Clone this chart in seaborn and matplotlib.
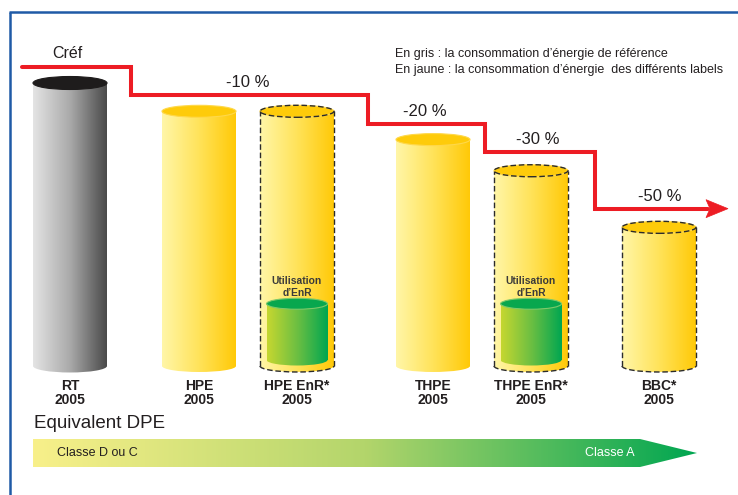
import numpy as np
import matplotlib
matplotlib.use("Agg")
import matplotlib.pyplot as plt
import seaborn as sns
import pandas as pd
from matplotlib.patches import Ellipse, Rectangle, Polygon, Arc
from matplotlib.colors import LinearSegmentedColormap

# ---------------- data ----------------
categories = ["RT\n2005", "HPE\n2005", "HPE EnR*\n2005", "THPE\n2005", "THPE EnR*\n2005", "BBC*\n2005"]
consumption = [100, 90, 90, 80, 69, 49]          # % of Créf
bar_type = ["ref", "label", "enr", "label", "enr", "dashed"]
enr_share = [22, 22]                              # "Utilisation d'EnR" part
step_levels = [100, 90, 80, 70, 50]
step_labels = ["Créf", "-10 %", "-20 %", "-30 %", "-50 %"]
legend_lines = ["En gris : la consommation d\u2019énergie de référence",
                "En jaune : la consommation d\u2019énergie  des différents labels"]
enr_text = ["Utilisation", "d\u2019EnR"]
dpe_title = "Equivalent DPE"
dpe_labels = ["Classe D ou C", "Classe A"]

# ---------------- layout ----------------
W, H = 738, 495
PX = 2.83         # pixels per % unit
BASE = 366        # pixel row of value 0
xpos = [70, 199, 297, 433, 531, 659]
BAR_W = 74
ENR_W = 61
step_x = [22, 131, 368, 485, 595, 708]
STEP_OFF = 5.6
TXT = "#231f20"
RED = "#ed1c24"

sns.set_theme(style="white")
plt.rcParams["font.family"] = ["Liberation Sans", "DejaVu Sans"]

fig = plt.figure(figsize=(W / 100, H / 100), dpi=100)
fig.patch.set_facecolor("white")

ax = fig.add_axes([0, 0, 1, 1], zorder=1)
ax.patch.set_alpha(0)

def v(py):
    return (BASE - py) / PX

# main bars through seaborn
df = pd.DataFrame({"pos": xpos, "value": consumption, "cat": categories})
gap = min(np.diff(sorted(xpos)))
sns.barplot(data=df, x="pos", y="value", native_scale=True, width=BAR_W / gap,
            errorbar=None, color="white", ax=ax)
n_main = len(ax.patches)
enr_pos = [xpos[i] for i, t in enumerate(bar_type) if t == "enr"]
df2 = pd.DataFrame({"pos": enr_pos, "value": enr_share})
sns.barplot(data=df2, x="pos", y="value", native_scale=True,
            width=ENR_W / (max(enr_pos) - min(enr_pos)),
            errorbar=None, color="white", ax=ax)

for p in ax.patches:
    p.set_facecolor("none")
    p.set_edgecolor("none")

cm_gray = LinearSegmentedColormap.from_list("g", ["#e4e4e4", "#aaaaaa", "#4a4a4a"])
cm_yel = LinearSegmentedColormap.from_list("y", ["#fff6a8", "#ffe35a", "#ffc907"])
cm_grn = LinearSegmentedColormap.from_list("gr", ["#c6d730", "#6cbf42", "#00a651"])
grad = np.linspace(0, 1, 256).reshape(1, -1)
DASH = (0, (4, 2))


def cylinder(x0, w, y0, y1, cmap, top_face, top_edge, ell_px, dashed, z):
    eh = ell_px / PX
    xc = x0 + w / 2
    ext = [x0, x0 + w, y0 - eh / 2, y1]
    for clip in (Rectangle((x0, y0), w, y1 - y0, transform=ax.transData),
                 Ellipse((xc, y0), w, eh, transform=ax.transData)):
        im = ax.imshow(grad, cmap=cmap, extent=ext, aspect="auto", origin="lower",
                       interpolation="bilinear", zorder=z)
        im.set_clip_path(clip)
    ax.add_patch(Ellipse((xc, y1), w, eh, facecolor=top_face, edgecolor=top_edge,
                         lw=0.8, zorder=z + 0.5))
    if dashed:
        kw = dict(color="#2b2b2b", lw=1.0, ls=DASH, zorder=z + 0.8)
        ax.plot([x0, x0], [y0, y1], **kw)
        ax.plot([x0 + w, x0 + w], [y0, y1], **kw)
        ax.add_patch(Ellipse((xc, y1), w, eh, fill=False, edgecolor="#2b2b2b",
                             lw=1.0, ls=DASH, zorder=z + 0.8))
        ax.add_patch(Arc((xc, y0), w, eh, theta1=180, theta2=360, edgecolor="#2b2b2b",
                         lw=1.0, ls=DASH, zorder=z + 0.8))


for p, t in zip(ax.patches[:n_main], bar_type):
    x0, w, h = p.get_x(), p.get_width(), p.get_height()
    if t == "ref":
        cylinder(x0, w, 0, h, cm_gray, "#1e1c1c", "#1e1c1c", 13, False, 2)
    else:
        cylinder(x0, w, 0, h, cm_yel, "#fecb0a", "#ffd84a", 12, t != "label", 2)

for p in ax.patches[n_main:n_main + len(enr_share)]:
    x0, w, h = p.get_x(), p.get_width(), p.get_height()
    cylinder(x0, w, 6 / PX, h, cm_grn, "#08a74e", "#7cc96a", 11, False, 4)

# red step line
ys = [lv + STEP_OFF for lv in step_levels]
ax.plot(step_x, ys + [ys[-1]], drawstyle="steps-post", color=RED, lw=2.9,
        solid_joinstyle="miter", zorder=6)
tip_x = 728
ax.add_patch(Polygon([(tip_x, ys[-1]), (step_x[-1] - 2, ys[-1] + 9 / PX),
                      (step_x[-1] + 2, ys[-1]), (step_x[-1] - 2, ys[-1] - 9 / PX)],
                     closed=True, facecolor=RED, edgecolor=RED, lw=0.5, zorder=6))

for i, (lab, lv) in enumerate(zip(step_labels, ys)):
    x_end = step_x[i + 1] if i + 1 < len(step_x) - 1 else tip_x
    xm = (step_x[i] + x_end) / 2
    if i == 0:
        ax.text(52, lv + 13.5 / PX, lab, ha="left", va="center", fontsize=11.5,
                color=TXT, zorder=8)
    else:
        ax.text(xm - 2, lv + 12.5 / PX, lab, ha="center", va="center", fontsize=12,
                color=TXT, zorder=8)

ax.set_xlim(0, W)
ax.set_ylim(v(H), v(0))
ax.axis("off")

# ---------------- overlay (pixel coordinates) ----------------
ov = fig.add_axes([0, 0, 1, 1], zorder=3)
ov.patch.set_alpha(0)
ov.set_xlim(0, W)
ov.set_ylim(H, 0)
ov.axis("off")

# frame
ov.plot([8.5, W], [12, 12], color="#1f5aa6", lw=1.8, solid_capstyle="butt")
ov.plot([9.5, 9.5], [12, H], color="#1f5aa6", lw=1.8, solid_capstyle="butt")

# legend text
ov.text(395, 54, legend_lines[0], ha="left", va="center", fontsize=9, color=TXT)
ov.text(395, 70, legend_lines[1], ha="left", va="center", fontsize=9, color=TXT)

# category labels
for x, c in zip(xpos, categories):
    l1, l2 = c.split("\n")
    ov.text(x, 385.5, l1, ha="center", va="center", fontsize=10, color=TXT,
            fontweight="bold")
    ov.text(x, 400, l2, ha="center", va="center", fontsize=10, color=TXT,
            fontweight="bold")

# EnR text
for x in enr_pos:
    ov.text(x, 281, enr_text[0], ha="center", va="center", fontsize=7.4, color="#3a3a3a",
            fontweight="bold")
    ov.text(x, 293, enr_text[1], ha="center", va="center", fontsize=7.4, color="#3a3a3a",
            fontweight="bold")

# DPE
ov.text(34, 424, dpe_title, ha="left", va="center", fontsize=13.5, color=TXT)
arrow = Polygon([(33, 439), (640, 439), (697, 453), (640, 467), (33, 467)],
                closed=True, facecolor="none", edgecolor="none")
ov.add_patch(arrow)
cm_dpe = LinearSegmentedColormap.from_list("d", ["#f8f08a", "#b3d56b", "#00a651"])
im = ov.imshow(grad, cmap=cm_dpe, extent=[33, 697, 467, 439], aspect="auto",
               interpolation="bilinear", zorder=1)
im.set_clip_path(arrow)
ov.text(57, 453, dpe_labels[0], ha="left", va="center", fontsize=9, color=TXT, zorder=3)
ov.text(585, 453, dpe_labels[1], ha="left", va="center", fontsize=9, color="white", zorder=3)
ov.set_xlim(0, W)
ov.set_ylim(H, 0)

fig.savefig("out.png", dpi=100, facecolor="white")
